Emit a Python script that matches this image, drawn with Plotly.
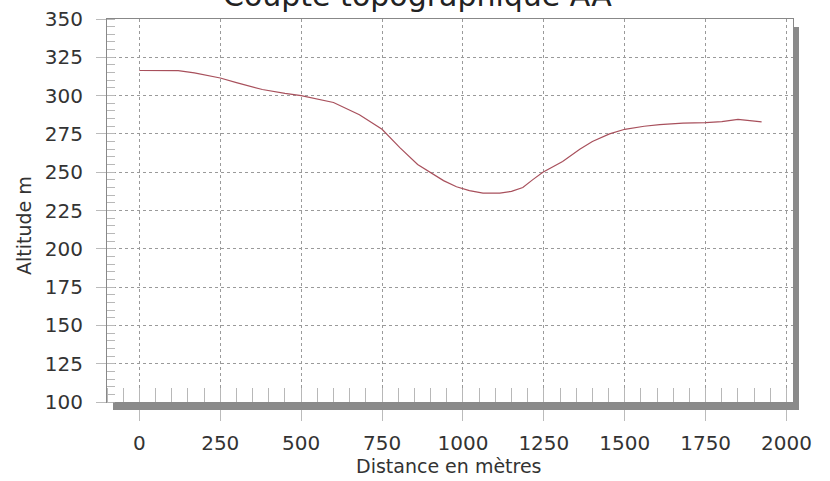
import plotly.graph_objects as go

distance = [0, 60, 120, 170, 250, 300, 380, 450, 500, 600, 680, 750, 805, 860, 898, 940, 980,
            1020, 1062, 1114, 1150, 1185, 1215, 1247, 1308, 1361, 1400, 1453, 1500, 1560, 1608,
            1680, 1750, 1800, 1850, 1880, 1923]
altitude = [316.4, 316.5, 316.3, 314.8, 311.5, 308.5, 304, 301.5, 300, 295.5, 287.5, 278, 266,
            255, 250, 244.5, 240.5, 238, 236.3, 236.3, 237.5, 240, 245, 250, 257, 265, 270, 275,
            278, 280, 281, 282, 282.3, 283, 284.5, 283.8, 282.8]
x_ticks = [0, 250, 500, 750, 1000, 1250, 1500, 1750, 2000]
y_ticks = [100, 125, 150, 175, 200, 225, 250, 275, 300, 325, 350]

title_text = "Coupte topographique AA"
x_title = "Distance en mètres"
y_title = "Altitude m"

W, H = 830, 481
L, T = 107, 19
PR, PB = 793, 402
R, B = W - PR, H - PB
pw, ph = PR - L, PB - T

def px(p):
    return (p - L) / pw

def py(p):
    return (PB - p) / ph

font = "DejaVu Sans, Verdana, sans-serif"

fig = go.Figure()
fig.add_trace(go.Scatter(x=distance, y=altitude, mode="lines",
                         line=dict(color="#a8505c", width=1.2), hoverinfo="x+y"))

grid = dict(showgrid=True, gridcolor="#9a9a9a", griddash="dot", gridwidth=1)

fig.update_layout(
    width=W, height=H, margin=dict(l=L, r=R, t=T, b=B, autoexpand=False),
    paper_bgcolor="white", plot_bgcolor="white", showlegend=False,
    font=dict(family=font, color="#333333"),
    xaxis=dict(range=[-100, 2020], tickvals=x_ticks, ticktext=[str(v) for v in x_ticks],
               ticks="outside", ticklen=18, tickcolor="#bbbbbb", tickwidth=1,
               ticklabelstandoff=5, ticklabeloverflow="allow",
               tickfont=dict(size=20, family=font, color="#333333"), automargin=False,
               minor=dict(dtick=50, tick0=0, ticks="inside", ticklen=14, tickcolor="#b8b8b8",
                          showgrid=False),
               showline=True, linecolor="#888888", linewidth=1, mirror=True,
               zeroline=False, **grid),
    yaxis=dict(range=[100, 350], tickvals=y_ticks, ticktext=[str(v) for v in y_ticks],
               ticks="outside", ticklen=10, tickcolor="#bbbbbb", tickwidth=1,
               ticklabelstandoff=9, ticklabeloverflow="allow",
               tickfont=dict(size=20, family=font, color="#333333"), automargin=False,
               minor=dict(dtick=5, tick0=0, ticks="inside", ticklen=8, tickcolor="#b8b8b8",
                          showgrid=False),
               showline=True, linecolor="#888888", linewidth=1, mirror=True,
               zeroline=False, **grid),
)

# drop shadow (bottom and right)
fig.add_shape(type="rect", xref="paper", yref="paper", layer="above",
              x0=px(113), x1=px(799), y0=py(410), y1=py(402.5),
              fillcolor="#8a8a8a", line=dict(width=0))
fig.add_shape(type="rect", xref="paper", yref="paper", layer="above",
              x0=px(793.5), x1=px(799), y0=py(410), y1=py(27),
              fillcolor="#8a8a8a", line=dict(width=0))

fig.add_annotation(text=title_text, xref="paper", yref="paper", x=px(417), y=py(14.5),
                   xanchor="center", yanchor="bottom", showarrow=False,
                   font=dict(size=30, family=font, color="#222222"))
fig.add_annotation(text=x_title, xref="paper", yref="paper", x=px(449), y=py(466),
                   xanchor="center", yanchor="middle", showarrow=False,
                   font=dict(size=19, family=font, color="#333333"))
fig.add_annotation(text=y_title, xref="paper", yref="paper", x=px(24), y=py(226),
                   xanchor="center", yanchor="middle", showarrow=False, textangle=-90,
                   font=dict(size=19, family=font, color="#333333"))

fig.write_html("out.html", config={"displayModeBar": False},
               post_script="document.body.style.margin='0';document.body.style.overflow='hidden';")
